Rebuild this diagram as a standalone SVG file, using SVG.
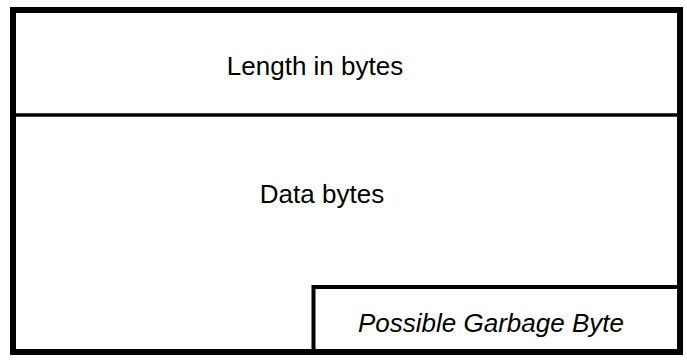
<svg xmlns="http://www.w3.org/2000/svg" width="687" height="360" viewBox="0 0 687 360">
<style>
.t{font-family:"Liberation Sans",Arial,sans-serif;font-size:26px;fill:#000;text-anchor:middle}
.i{font-style:italic}
.ln{stroke:#000;fill:none}
</style>
<rect width="687" height="360" fill="#fff"/>
<g id="frame">
<rect class="ln" x="13" y="10" width="667" height="342" stroke-width="6"/>
</g>
<g id="length">
<line class="ln" x1="16" y1="115" x2="677" y2="115" stroke-width="3.5"/>
<text class="t" x="315" y="75">Length in bytes</text>
</g>
<g id="data">
<text class="t" x="322" y="203">Data bytes</text>
</g>
<g id="garbage">
<path class="ln" d="M313.5,349 V287 H677" stroke-width="4"/>
<text class="t i" x="491" y="332">Possible Garbage Byte</text>
</g>
</svg>
